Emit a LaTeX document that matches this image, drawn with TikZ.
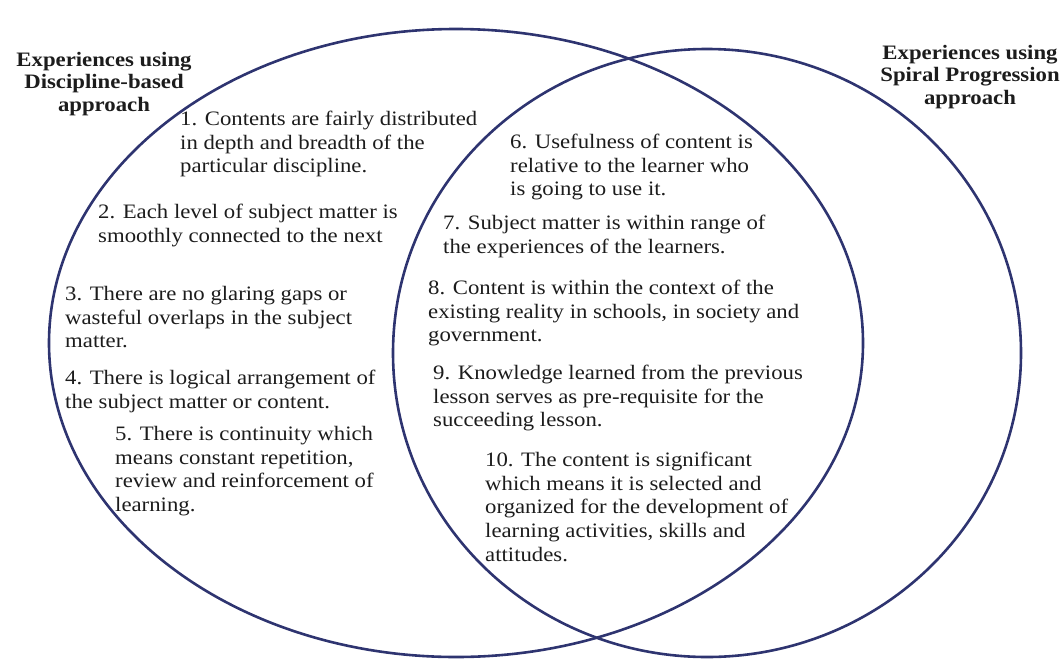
\documentclass[tikz,border=0pt]{standalone}
\usepackage{fontspec}
\setmainfont[FakeStretch=1.11]{Liberation Serif}
\usepackage{tikz}
\definecolor{vennblue}{RGB}{46,52,112}
\definecolor{txtgray}{RGB}{28,28,28}

\begin{document}
\begin{tikzpicture}[x=1pt,y=1pt,
  venn/.style={draw=vennblue, line width=2.6pt},
  item/.style={anchor=north west, align=left, text=txtgray,
    font=\fontsize{20.5}{23.6}\selectfont},
  head/.style={anchor=north, align=center, text=txtgray,
    font=\fontsize{20.5}{22.5}\selectfont\bfseries}]
\tikzstyle{every node}+=[inner sep=0pt]
\useasboundingbox (0,0) rectangle (1062,-659);
% the two sets
\draw [venn] (456,-343) ellipse [x radius=407, y radius=314];
\draw [venn] (707,-353) ellipse [x radius=314, y radius=304];
% headings
\node [head] (discipline) at (104,-52) {Experiences using\\Discipline-based\\approach};
\node [head] (spiral) at (970,-45) {Experiences using\\Spiral Progression\\approach};
% discipline-based only
\node [item] (c1) at (180,-111) {1. Contents are fairly distributed\\in depth and breadth of the\\particular discipline.};
\node [item] (c2) at (98,-204) {2. Each level of subject matter is\\smoothly connected to the next};
\node [item] (c3) at (65,-286) {3. There are no glaring gaps or\\wasteful overlaps in the subject\\matter.};
\node [item] (c4) at (65,-370) {4. There is logical arrangement of\\the subject matter or content.};
\node [item] (c5) at (115,-426) {5. There is continuity which\\means constant repetition,\\review and reinforcement of\\learning.};
% shared
\node [item] (c6) at (510,-134) {6. Usefulness of content is\\relative to the learner who\\is going to use it.};
\node [item] (c7) at (443,-215) {7. Subject matter is within range of\\the experiences of the learners.};
\node [item] (c8) at (428,-280) {8. Content is within the context of the\\existing reality in schools, in society and\\government.};
\node [item] (c9) at (433,-365) {9. Knowledge learned from the previous\\lesson serves as pre-requisite for the\\succeeding lesson.};
\node [item] (c10) at (485,-452) {10. The content is significant\\which means it is selected and\\organized for the development of\\learning activities, skills and\\attitudes.};
\end{tikzpicture}
\end{document}
